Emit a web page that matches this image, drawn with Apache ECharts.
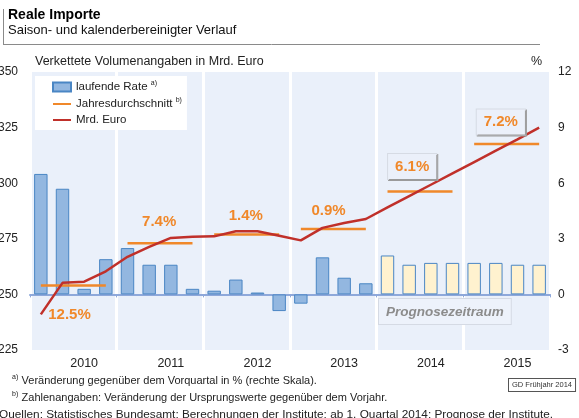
<!DOCTYPE html>
<html><head><meta charset="utf-8">
<script src="https://cdn.jsdelivr.net/npm/echarts@6/dist/echarts.min.js"></script>
<style>html,body{margin:0;padding:0;background:#fff}#c{width:579px;height:418px}</style>
</head><body><div id="c"></div>
<script>
// ---- data ----
const years = ['2010','2011','2012','2013','2014','2015'];
const quarters = ['Q1','Q2','Q3','Q4'];
// laufende Rate (% ggü. Vorquartal, rechte Skala)
const rate = [6.5, 5.7, 0.3, 1.9, 2.5, 1.6, 1.6, 0.3, 0.2, 0.8, 0.1, -0.9,
              -0.5, 2.0, 0.9, 0.6, 2.1, 1.6, 1.7, 1.7, 1.7, 1.7, 1.6, 1.6];
// Mrd. Euro (linke Skala)
const mrdEuro = [241.0, 255.2, 255.7, 260.4, 266.9, 271.4, 275.4, 275.9,
                 276.1, 278.4, 278.4, 276.4, 274.3, 279.9, 282.1, 283.9,
                 289.1, 294.2, 299.3, 304.4, 309.5, 314.6, 319.7, 325.0];
// Jahresdurchschnitt (linke Skala) und Veränderung ggü. Vorjahr
const yearAvg = [254.0, 273.0, 276.9, 279.4, 296.3, 317.6];
const yearPct = ['12.5%', '7.4%', '1.4%', '0.9%', '6.1%', '7.2%'];
const forecastFrom = 16; // 2014 Q1
const leftAxis = {min: 225, max: 350, interval: 25};
const rightAxis = {min: -3, max: 12, interval: 3};

// ---- styles ----
const FONT = '"Liberation Sans", Arial, sans-serif';
const ORANGE = '#F0882A';
const RED = '#C0302A';
const labelOffsets = [[7, 29], [10, -21], [10, -19], [6, -18], [3, -25], [5, -22]];

const cats = [];
years.forEach(y => quarters.forEach(q => cats.push(y + ' ' + q)));

const barData = rate.map((v, i) => ({
  value: v,
  itemStyle: {color: i >= forecastFrom ? '#FFF2CF' : '#93B7E0', borderColor: '#4A86C4', borderWidth: 1}
}));

const avgSeries = years.map((y, yi) => {
  const d = new Array(cats.length).fill(null);
  for (let q = 0; q < 4; q++) d[yi * 4 + q] = yearAvg[yi];
  const boxed = yi >= 4;
  const lab = {
    show: true, position: 'inside', offset: labelOffsets[yi],
    formatter: yearPct[yi], color: ORANGE, fontWeight: 'bold', fontSize: 15, fontFamily: FONT
  };
  if (boxed) Object.assign(lab, {
    backgroundColor: '#EBF0FA', borderColor: '#D6DBE4', borderWidth: 1,
    padding: [6, 7, 4, 7], shadowColor: '#9A9A9A', shadowOffsetX: 1, shadowOffsetY: 1, shadowBlur: 0
  });
  return {
    name: 'Jahresdurchschnitt', type: 'line', yAxisIndex: 0, data: d,
    symbol: 'none', connectNulls: false, z: 3,
    lineStyle: {color: ORANGE, width: 2.5}, itemStyle: {color: ORANGE},
    markPoint: {
      symbol: 'circle', symbolSize: 1, silent: true,
      itemStyle: {color: 'rgba(0,0,0,0)'},
      label: lab,
      data: [{coord: [yi * 4 + 1, yearAvg[yi]]}]
    }
  };
});

const hiddenSym = {color: 'rgba(0,0,0,0)', borderColor: 'rgba(0,0,0,0)', borderWidth: 0, opacity: 0};

const chart = echarts.init(document.getElementById('c'), null, {renderer: 'canvas'});
chart.setOption({
  animation: false,
  textStyle: {fontFamily: FONT},
  title: {
    text: 'Reale Importe', subtext: 'Saison- und kalenderbereinigter Verlauf',
    left: 6, top: 8, itemGap: 2, padding: [0, 0, 0, 2],
    textStyle: {fontSize: 14, fontWeight: 'bold', color: '#000', fontFamily: FONT},
    subtextStyle: {fontSize: 13, color: '#111', fontFamily: FONT}
  },
  legend: {
    left: 35, top: 76, orient: 'vertical', backgroundColor: '#fff',
    padding: [4, 5, 4, 17], itemGap: 4, itemWidth: 18, itemHeight: 9,
    data: [
      {name: 'laufende Rate', icon: 'rect'},
      {name: 'Jahresdurchschnitt', itemStyle: hiddenSym},
      {name: 'Mrd. Euro', itemStyle: hiddenSym}
    ],
    formatter: n => n === 'laufende Rate' ? '{n|laufende Rate} {s|a)}' :
                    n === 'Jahresdurchschnitt' ? '{n|Jahresdurchschnitt} {s|b)}' : '{n|' + n + '}',
    textStyle: {
      fontSize: 11.5, color: '#222', fontFamily: FONT,
      rich: {
        n: {fontSize: 11.5, color: '#222', lineHeight: 14, fontFamily: FONT},
        s: {fontSize: 7, color: '#222', verticalAlign: 'top', lineHeight: 8, fontFamily: FONT}
      }
    }
  },
  grid: {left: 30, right: 29, top: 72, bottom: 68, show: true, backgroundColor: '#EAF0FA', borderWidth: 0,
         containLabel: false, outerBoundsMode: 'none'},
  xAxis: [{
    type: 'category', data: cats, boundaryGap: true, position: 'bottom',
    axisLine: {show: false}, axisTick: {show: false},
    axisLabel: {
      interval: i => i % 4 === 2, formatter: v => v.slice(0, 4),
      fontSize: 12.5, color: '#222', margin: 7, fontFamily: FONT
    },
    splitLine: {show: true, interval: 3, lineStyle: {color: '#fff', width: 3}}
  }, {
    type: 'category', data: cats, boundaryGap: true, position: 'bottom',
    axisLine: {show: true, onZero: true, onZeroAxisIndex: 1, lineStyle: {color: '#8EA8DA', width: 2}},
    axisTick: {show: true, interval: 3, length: 3, lineStyle: {color: '#8EA8DA'}},
    axisLabel: {show: false}, splitLine: {show: false}
  }],
  yAxis: [{
    type: 'value', position: 'left', ...leftAxis,
    axisLine: {show: false}, axisTick: {show: false}, splitLine: {show: false},
    axisLabel: {fontSize: 12, color: '#222', margin: 12, fontFamily: FONT}
  }, {
    type: 'value', position: 'right', ...rightAxis,
    axisLine: {show: false}, axisTick: {show: false}, splitLine: {show: false},
    axisLabel: {fontSize: 12, color: '#222', margin: 8, fontFamily: FONT}
  }],
  series: [
    {name: 'laufende Rate', type: 'bar', yAxisIndex: 1, xAxisIndex: 0, data: barData, barWidth: '62%', z: 2,
     itemStyle: {color: '#93B7E0', borderColor: '#4A86C4', borderWidth: 1}},
    ...avgSeries,
    {name: 'Mrd. Euro', type: 'line', yAxisIndex: 0, data: mrdEuro, symbol: 'none', z: 4,
     lineStyle: {color: RED, width: 2.5}, itemStyle: {color: RED}}
  ],
  graphic: [
    {type: 'line', shape: {x1: 3.5, y1: 9, x2: 3.5, y2: 44}, style: {stroke: '#8a8a8a', lineWidth: 1}, silent: true},
    {type: 'line', shape: {x1: 3, y1: 44.5, x2: 540, y2: 44.5}, style: {stroke: '#8a8a8a', lineWidth: 1}, silent: true},
    {type: 'text', left: 35, top: 55, style: {text: 'Verkettete Volumenangaben in Mrd. Euro', font: '12.5px ' + FONT, fill: '#222'}},
    {type: 'text', left: 531, top: 55, style: {text: '%', font: '12.5px ' + FONT, fill: '#222'}},
    {type: 'text', left: 378, top: 298, z: 10, style: {
      text: 'Prognosezeitraum', font: 'italic bold 13.5px ' + FONT, fill: '#8C8C8C',
      backgroundColor: '#EDF2FB', borderColor: '#D5DAE4', borderWidth: 1, padding: [6, 7, 5, 7]
    }},
    {type: 'text', left: 12, top: 374, style: {
      text: '{s|a)} {t|Veränderung gegenüber dem Vorquartal in % (rechte Skala).}',
      rich: {s: {fontSize: 7, verticalAlign: 'top', lineHeight: 8, fill: '#222', fontFamily: FONT},
             t: {fontSize: 11, lineHeight: 14, fill: '#222', fontFamily: FONT}}
    }},
    {type: 'text', left: 12, top: 391, style: {
      text: '{s|b)} {t|Zahlenangaben: Veränderung der Ursprungswerte gegenüber dem Vorjahr.}',
      rich: {s: {fontSize: 7, verticalAlign: 'top', lineHeight: 8, fill: '#222', fontFamily: FONT},
             t: {fontSize: 11, lineHeight: 14, fill: '#222', fontFamily: FONT}}
    }},
    {type: 'text', left: -1, top: 409, style: {
      text: 'Quellen: Statistisches Bundesamt; Berechnungen der Institute; ab 1. Quartal 2014: Prognose der Institute.',
      font: '11.8px ' + FONT, fill: '#222'
    }},
    {type: 'text', left: 508, top: 378, style: {
      text: 'GD Frühjahr 2014', font: '7.5px ' + FONT, fill: '#333',
      borderColor: '#555', borderWidth: 1, padding: [2, 3, 2, 3], backgroundColor: '#fff'
    }}
  ]
});
</script></body></html>
